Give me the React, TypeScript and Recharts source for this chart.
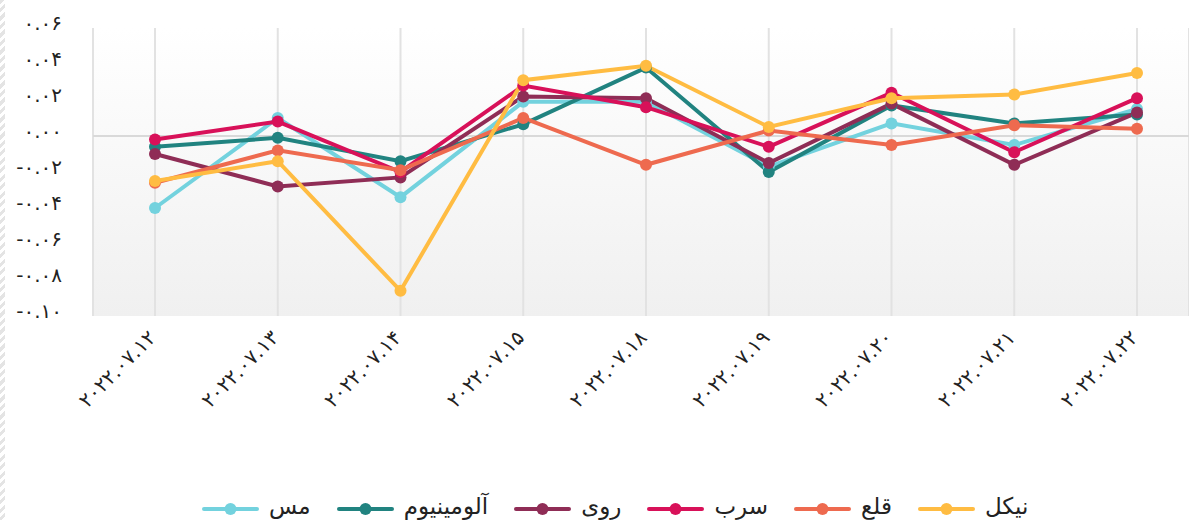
import React from "react"
import {
  LineChart,
  Line,
  XAxis,
  YAxis,
  CartesianGrid,
  ReferenceLine,
  Legend,
} from "recharts"

const dates = [
  "۲۰۲۲.۰۷.۱۲",
  "۲۰۲۲.۰۷.۱۳",
  "۲۰۲۲.۰۷.۱۴",
  "۲۰۲۲.۰۷.۱۵",
  "۲۰۲۲.۰۷.۱۸",
  "۲۰۲۲.۰۷.۱۹",
  "۲۰۲۲.۰۷.۲۰",
  "۲۰۲۲.۰۷.۲۱",
  "۲۰۲۲.۰۷.۲۲",
]

const mes = [-0.04, 0.01, -0.034, 0.019, 0.019, -0.017, 0.007, -0.005, 0.015]
const aluminium = [-0.006, -0.001, -0.014, 0.0065, 0.038, -0.02, 0.017, 0.007, 0.012]
const ruy = [-0.01, -0.028, -0.023, 0.022, 0.021, -0.015, 0.018, -0.016, 0.013]
const sorb = [-0.002, 0.008, -0.02, 0.028, 0.016, -0.006, 0.024, -0.009, 0.021]
const ghal = [-0.026, -0.008, -0.019, 0.01, -0.016, 0.003, -0.005, 0.006, 0.004]
const nikel = [-0.025, -0.014, -0.086, 0.031, 0.039, 0.005, 0.021, 0.023, 0.035]

const yTicks = [0.06, 0.04, 0.02, 0, -0.02, -0.04, -0.06, -0.08, -0.1]

const series = [
  { key: "mes", name: "مس", color: "#73d2de", values: mes },
  { key: "aluminium", name: "آلومینیوم", color: "#218380", values: aluminium },
  { key: "ruy", name: "روی", color: "#8f2d56", values: ruy },
  { key: "sorb", name: "سرب", color: "#d81159", values: sorb },
  { key: "ghal", name: "قلع", color: "#ee6a4f", values: ghal },
  { key: "nikel", name: "نیکل", color: "#ffbc42", values: nikel },
]

const data = dates.map((d, i) => {
  const row: Record<string, string | number> = { date: d }
  series.forEach((s) => {
    row[s.key] = s.values[i]
  })
  return row
})

const FONT = "'DejaVu Sans', sans-serif"
const faDigits = "۰۱۲۳۴۵۶۷۸۹"
const toFa = (s: string) => s.replace(/[0-9]/g, (c) => faDigits[+c])

function YTick({ y, payload }: any) {
  return (
    <text x={62} y={y - 5} textAnchor="end" dominantBaseline="central" fontFamily={FONT} fontSize={20} letterSpacing={1.5} fill="#222">
      {toFa(payload.value.toFixed(2))}
    </text>
  )
}

function XTick({ x, y, payload }: any) {
  return (
    <g transform={`translate(${x + 2},${y + 15})`}>
      <text transform="rotate(-45)" textAnchor="end" fontFamily={FONT} fontSize={20} letterSpacing={3.5} fill="#222">
        {payload.value}
      </text>
    </g>
  )
}

function LegendBox() {
  return (
    <div style={{ display: "flex", alignItems: "center", height: 30, paddingLeft: 202, fontFamily: FONT, fontSize: 23, lineHeight: "30px", color: "#222" }}>
      {series.map((s) => (
        <div key={s.key} style={{ display: "flex", alignItems: "center", marginRight: 26 }}>
          <svg width={57} height={14} style={{ marginRight: 10, marginTop: 5 }}>
            <line x1={2} y1={7} x2={55} y2={7} stroke={s.color} strokeWidth={4} strokeLinecap="round" />
            <circle cx={28.5} cy={7} r={6} fill={s.color} />
          </svg>
          <span>{s.name}</span>
        </div>
      ))}
    </div>
  )
}

export default function App() {
  return (
    <div style={{ position: "absolute", left: 0, top: 0, width: 1189, height: 520, background: "#fff" }}>
      <div
        style={{
          position: "absolute",
          left: 0,
          top: 0,
          width: 5,
          height: 520,
          background: "repeating-linear-gradient(135deg, #e4e4e4 0 3px, #ffffff 3px 6px)",
        }}
      />
      <LineChart width={1189} height={520} data={data} margin={{ top: 28, right: 0, left: 0, bottom: 34 }}>
        <defs>
          <linearGradient id="plotBg" x1="0" y1="0" x2="0" y2="1">
            <stop offset="0%" stopColor="#ffffff" />
            <stop offset="100%" stopColor="#f0f0f0" />
          </linearGradient>
        </defs>
        <CartesianGrid horizontal={false} stroke="#e2e2e2" strokeWidth={2} fill="url(#plotBg)" fillOpacity={1} />
        <ReferenceLine y={0} stroke="#d9d9d9" strokeWidth={2} />
        <XAxis
          dataKey="date"
          axisLine={false}
          tickLine={false}
          height={140}
          interval={0}
          padding={{ left: 62, right: 52 }}
          tick={<XTick />}
        />
        <YAxis
          width={93}
          domain={[-0.1, 0.06]}
          ticks={yTicks}
          axisLine={false}
          tickLine={false}
          tick={<YTick />}
        />
        {series.map((s) => (
          <Line
            key={s.key}
            type="linear"
            dataKey={s.key}
            name={s.name}
            stroke={s.color}
            strokeWidth={4}
            dot={{ r: 6, fill: s.color, stroke: s.color, strokeWidth: 0 }}
            activeDot={false}
            isAnimationActive={false}
          />
        ))}
        <Legend verticalAlign="bottom" content={<LegendBox />} wrapperStyle={{ left: 0, top: 491, width: 1189 }} />
      </LineChart>
    </div>
  )
}
